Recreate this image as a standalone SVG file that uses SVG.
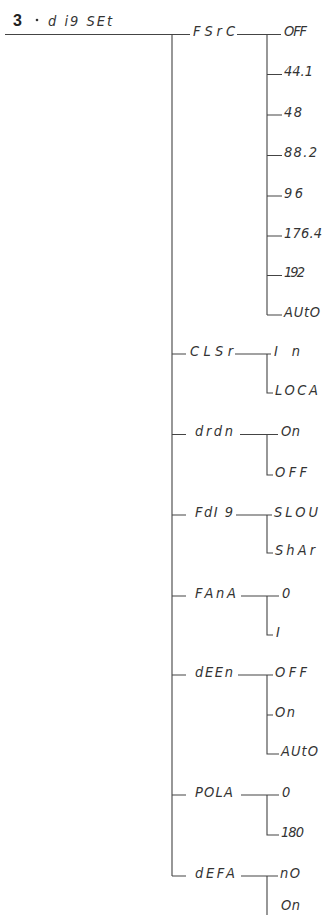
<svg xmlns="http://www.w3.org/2000/svg" width="325" height="915" viewBox="0 0 325 915">
<style>
.ln{stroke:#444;stroke-width:1.1;fill:none}
.t{font-family:"DejaVu Sans Condensed","DejaVu Sans",sans-serif;font-style:italic;font-size:14.5px;fill:#333}
.h{font-family:"Liberation Sans",Arial,sans-serif;font-weight:bold;font-size:16px;fill:#222}
</style>
<rect width="325" height="915" fill="#fff"/>
<g id="connectors">
<path class="ln" d="M5 34.5H190M172 34.5V876"/>
<path class="ln" d="M237 34.5H281M267 34.5V315M267 74.5H282M267 115H282M267 155.5H282M267 196H282M267 236H282M267 275.5H282M267 315H282"/>
<path class="ln" d="M172 354H186M235 354H271M267 354V393H273"/>
<path class="ln" d="M172 434.5H186M240 434.5H278M267 434.5V475H273"/>
<path class="ln" d="M172 515H186M236 515H272M267 515V553H273"/>
<path class="ln" d="M172 596H186M241 596H279M267 596V635H273"/>
<path class="ln" d="M172 675H186M238 675H273M267 675V754H279M267 715H273"/>
<path class="ln" d="M172 795H186M241 795H279M267 795V835H279"/>
<path class="ln" d="M172 876H186M241 876H278M267 876V915"/>
</g>
<g id="header">
<text class="h" x="13" y="25.5">3</text>
<circle cx="37" cy="20" r="1.3" fill="#333"/>
<text class="t" x="48" y="25.5" textLength="64" lengthAdjust="spacing">d i9 SEt</text>
</g>
<g id="FSrC">
<text class="t" x="193" y="36" textLength="42" lengthAdjust="spacing">FSrC</text>
<text class="t" x="284" y="36" textLength="23" lengthAdjust="spacing">OFF</text>
<text class="t" x="284" y="76" textLength="29" lengthAdjust="spacing">44.1</text>
<text class="t" x="284" y="116.5" textLength="18" lengthAdjust="spacing">48</text>
<text class="t" x="284" y="157" textLength="33" lengthAdjust="spacing">88.2</text>
<text class="t" x="284" y="197.5" textLength="19" lengthAdjust="spacing">96</text>
<text class="t" x="284" y="237.5" textLength="38" lengthAdjust="spacing">176.4</text>
<text class="t" x="284" y="277" textLength="21" lengthAdjust="spacing">192</text>
<text class="t" x="284" y="316.5" textLength="36" lengthAdjust="spacing">AUtO</text>
</g>
<g id="CLSr">
<text class="t" x="190" y="355.5" textLength="43" lengthAdjust="spacing">CLSr</text>
<text class="t" x="274" y="355.5" textLength="26" lengthAdjust="spacing">I n</text>
<text class="t" x="275" y="394.5" textLength="43" lengthAdjust="spacing">LOCA</text>
</g>
<g id="drdn">
<text class="t" x="195" y="436" textLength="38" lengthAdjust="spacing">drdn</text>
<text class="t" x="281" y="436" textLength="19" lengthAdjust="spacing">On</text>
<text class="t" x="275" y="476.5" textLength="32" lengthAdjust="spacing">OFF</text>
</g>
<g id="Fdl9">
<text class="t" x="195" y="516.5" textLength="38" lengthAdjust="spacing">FdI 9</text>
<text class="t" x="274" y="516.5" textLength="44" lengthAdjust="spacing">SLOU</text>
<text class="t" x="275" y="554.5" textLength="40" lengthAdjust="spacing">ShAr</text>
</g>
<g id="FAnA">
<text class="t" x="195" y="597.5" textLength="41" lengthAdjust="spacing">FAnA</text>
<text class="t" x="282" y="597.5">0</text>
<text class="t" x="276" y="636.5">I</text>
</g>
<g id="dEEn">
<text class="t" x="195" y="676.5" textLength="38" lengthAdjust="spacing">dEEn</text>
<text class="t" x="275" y="676.5" textLength="32" lengthAdjust="spacing">OFF</text>
<text class="t" x="275" y="716.5" textLength="20" lengthAdjust="spacing">On</text>
<text class="t" x="281" y="755.5" textLength="37" lengthAdjust="spacing">AUtO</text>
</g>
<g id="POLA">
<text class="t" x="195" y="796.5" textLength="38" lengthAdjust="spacing">POLA</text>
<text class="t" x="282" y="796.5">0</text>
<text class="t" x="281" y="836.5" textLength="23" lengthAdjust="spacing">180</text>
</g>
<g id="dEFA">
<text class="t" x="195" y="877.5" textLength="40" lengthAdjust="spacing">dEFA</text>
<text class="t" x="280" y="877.5" textLength="20" lengthAdjust="spacing">nO</text>
<text class="t" x="281" y="910" textLength="19" lengthAdjust="spacing">On</text>
</g>
</svg>
